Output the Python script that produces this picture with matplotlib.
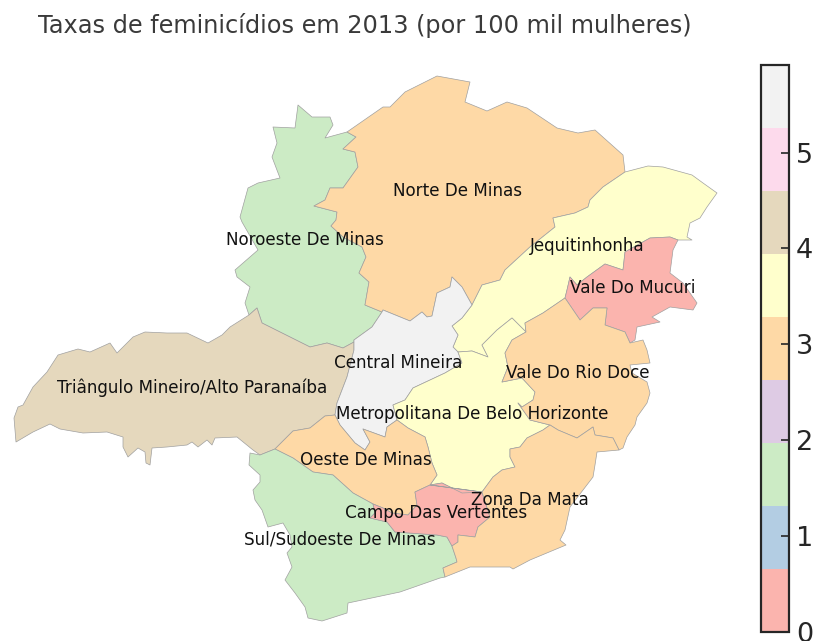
import matplotlib
matplotlib.use('Agg')
import matplotlib.pyplot as plt
from matplotlib.collections import PolyCollection
from matplotlib.colors import Normalize
from matplotlib.cm import ScalarMappable

TITLE = 'Taxas de feminicídios em 2013 (por 100 mil mulheres)'

regions = ['Noroeste De Minas', 'Norte De Minas', 'Jequitinhonha', 'Vale Do Mucuri',
           'Triângulo Mineiro/Alto Paranaíba', 'Central Mineira',
           'Metropolitana De Belo Horizonte', 'Vale Do Rio Doce', 'Oeste De Minas',
           'Sul/Sudoeste De Minas', 'Campo Das Vertentes', 'Zona Da Mata']
rates = [1.6, 3.0, 3.6, 0.3, 4.2, 5.92, 3.5, 3.0, 2.9, 1.6, 0.0, 2.9]
label_xy = [(305, 240), (458, 191), (587, 246), (633, 288), (192, 388), (398, 363),
            (472, 414), (578, 373), (366, 460), (340, 539), (436, 513), (530, 500)]

noroeste_norte = [(347, 132), (356, 137), (343, 149), (355, 152), (358, 167), (343, 188),
                  (330, 188), (325, 200), (314, 206), (337, 212), (336, 220), (331, 226),
                  (343, 237), (362, 247), (366, 257), (359, 273), (369, 282), (365, 305),
                  (382, 312)]
noroeste_central = [(382, 312), (372, 327), (354, 340), (354, 342)]
noroeste_triangulo = [(354, 342), (343, 348), (327, 343), (310, 347), (300, 342), (280, 332),
                      (262, 323), (257, 308), (249, 315)]
noroeste_outer = [(249, 315), (245, 303), (250, 287), (237, 277), (235, 270), (258, 250),
                  (242, 222), (240, 217), (248, 188), (258, 183), (280, 178), (272, 157),
                  (277, 143), (273, 127), (295, 128), (298, 105), (312, 117), (330, 117),
                  (333, 125), (325, 138), (347, 132)]
norte_outer = [(347, 132), (383, 107), (390, 107), (405, 92), (437, 76), (470, 82), (465, 102),
               (487, 111), (507, 102), (527, 108), (557, 128), (578, 133), (595, 130),
               (623, 155), (625, 172)]
norte_jequi = [(625, 172), (603, 187), (590, 200), (588, 207), (575, 213), (553, 218),
               (555, 227), (530, 247), (505, 270), (500, 280), (482, 285), (472, 305)]
norte_central = [(472, 305), (462, 287), (452, 277), (450, 287), (437, 293), (432, 316),
                 (427, 317), (422, 312), (410, 321), (383, 310), (382, 312)]
jequi_outer = [(625, 172), (648, 166), (663, 167), (692, 175), (703, 183), (717, 193),
               (707, 207), (700, 218), (690, 223), (687, 237), (692, 240), (678, 240)]
jequi_mucuri = [(678, 240), (670, 237), (650, 238), (625, 252), (623, 270), (605, 264),
                (587, 277), (577, 285), (570, 277), (567, 290), (565, 298)]
jequi_doce = [(565, 298), (543, 313), (525, 323), (526, 332)]
jequi_metro = [(526, 332), (512, 318), (497, 330), (482, 345), (488, 357), (472, 351), (458, 352)]
jequi_central = [(458, 352), (453, 347), (458, 335), (452, 326), (462, 318), (472, 305)]
mucuri_outer = [(678, 240), (673, 250), (670, 273), (683, 283), (697, 303), (693, 310),
                (670, 307), (652, 317), (660, 322), (637, 327), (635, 340), (630, 343)]
mucuri_doce = [(630, 343), (625, 332), (605, 325), (607, 308), (593, 308), (580, 320), (565, 298)]
doce_outer = [(630, 343), (643, 340), (647, 350), (650, 363), (630, 365), (632, 373), (647, 382),
              (650, 393), (647, 403), (637, 417), (635, 425), (627, 437), (623, 448), (619, 450)]
doce_mata = [(619, 450), (613, 438), (595, 435), (593, 427), (577, 438), (558, 430), (550, 425)]
doce_metro = [(550, 425), (530, 420), (518, 403), (522, 407), (533, 400), (535, 392), (522, 378),
              (502, 382), (508, 367), (505, 353), (512, 340), (526, 332)]
metro_mata = [(550, 425), (543, 430), (527, 438), (520, 447), (510, 449), (510, 457), (515, 467),
              (502, 470), (493, 477), (482, 492)]
metro_campo = [(482, 492), (462, 493), (442, 483), (430, 485)]
metro_oeste = [(430, 485), (437, 475), (432, 463), (428, 447), (425, 437), (408, 428), (397, 420)]
metro_central = [(397, 420), (393, 405), (405, 400), (413, 388), (445, 373), (462, 363), (458, 352)]
central_oeste = [(397, 420), (387, 427), (385, 437), (363, 429), (370, 442), (365, 450), (355, 443),
                 (340, 425), (335, 415)]
central_triangulo = [(335, 415), (337, 403), (347, 377), (354, 350), (354, 342)]
triangulo_outer = [(249, 315), (230, 327), (222, 335), (208, 343), (187, 333), (167, 333), (145, 332),
                   (133, 337), (117, 353), (110, 343), (90, 352), (78, 349), (58, 355), (47, 372),
                   (33, 387), (23, 405), (18, 407), (14, 418), (16, 442), (33, 432), (50, 424),
                   (60, 429), (83, 433), (107, 432), (123, 437), (123, 447), (128, 457), (138, 448),
                   (145, 452), (146, 463), (150, 465), (152, 448), (167, 447), (187, 445), (192, 442),
                   (198, 447), (207, 440), (212, 445), (215, 438), (237, 437), (253, 450), (260, 455)]
triangulo_sul = [(260, 455), (275, 449)]
triangulo_oeste = [(275, 449), (277, 447), (293, 431), (310, 428), (325, 416), (335, 415)]
oeste_sul = [(275, 449), (293, 458), (313, 472), (333, 475), (353, 493), (373, 504)]
oeste_campo = [(373, 504), (383, 508), (392, 513), (408, 515), (417, 505), (415, 492), (430, 485)]
campo_sul = [(373, 504), (375, 513), (370, 518), (387, 522), (395, 532), (437, 535), (447, 537), (452, 546)]
campo_mata = [(452, 546), (458, 542), (458, 535), (475, 537), (478, 527), (490, 517), (482, 492)]
sul_outer = [(260, 455), (250, 453), (249, 465), (260, 475), (260, 482), (253, 490), (255, 500),
             (262, 510), (268, 527), (283, 523), (290, 535), (292, 547), (287, 553), (292, 567),
             (285, 580), (295, 593), (305, 607), (308, 618), (322, 621), (347, 613), (348, 603),
             (400, 592), (440, 578), (445, 577)]
sul_mata = [(445, 577), (443, 568), (457, 562), (456, 558), (452, 546)]
mata_outer = [(619, 450), (597, 452), (595, 465), (593, 477), (570, 507), (565, 530), (560, 540),
              (566, 545), (530, 560), (513, 569), (510, 567), (470, 567), (445, 577)]


def rev(border):
    return border[::-1]


outlines = [
    noroeste_norte + noroeste_central + noroeste_triangulo + noroeste_outer,
    norte_outer + norte_jequi + norte_central + rev(noroeste_norte),
    jequi_outer + jequi_mucuri + jequi_doce + jequi_metro + jequi_central + rev(norte_jequi),
    mucuri_outer + mucuri_doce + jequi_mucuri[::-1],
    triangulo_outer + triangulo_sul + triangulo_oeste + central_triangulo + noroeste_triangulo,
    rev(noroeste_central) + rev(norte_central) + rev(jequi_central) + rev(metro_central)
    + central_oeste + central_triangulo,
    rev(jequi_metro) + rev(doce_metro) + metro_mata + metro_campo + metro_oeste + metro_central,
    doce_outer + doce_mata + doce_metro + rev(jequi_doce) + rev(mucuri_doce),
    triangulo_oeste + rev(central_oeste) + rev(metro_oeste) + rev(oeste_campo) + rev(oeste_sul),
    sul_outer + sul_mata + rev(campo_sul) + rev(oeste_sul) + rev(triangulo_sul),
    rev(metro_campo) + rev(oeste_campo) + campo_sul + campo_mata,
    metro_mata[::-1] + doce_mata[::-1] + mata_outer + sul_mata + campo_mata,
]

fig = plt.figure(figsize=(8.17, 6.41), dpi=100)
ax = fig.add_axes([0, 0, 1, 1])
ax.set_xlim(0, 817)
ax.set_ylim(641, 0)
ax.axis('off')

norm = Normalize(0, 5.92)
cmap = plt.get_cmap('Pastel1')
polys = PolyCollection(outlines, array=rates, cmap=cmap, norm=norm,
                       edgecolors='#a0a0a0', linewidths=0.5)
ax.add_collection(polys)

for name, (x, y) in zip(regions, label_xy):
    ax.text(x, y, name, fontsize=12.1, ha='center', va='center', color='#111111')

fig.text(365 / 817, 1 - 26 / 641, TITLE, fontsize=17.3, color='#3a3a3a', ha='center', va='center')

cax = fig.add_axes([761 / 817, 1 - 631.5 / 641, 28 / 817, 567 / 641])
cb = fig.colorbar(ScalarMappable(norm=norm, cmap=cmap), cax=cax)
cb.set_ticks([0, 1, 2, 3, 4, 5])
cb.ax.tick_params(direction='in', length=6, width=1.2, labelsize=19.5, labelcolor='#262626',
                  color='#262626', pad=5)
cb.outline.set_linewidth(1.6)
cb.outline.set_edgecolor('#262626')

fig.savefig('out.png', dpi=100)
